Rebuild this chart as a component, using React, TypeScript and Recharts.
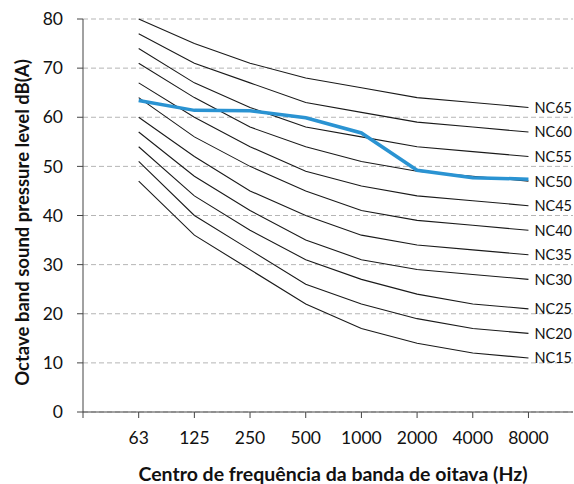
import { LineChart, Line, XAxis, YAxis, CartesianGrid, Label } from 'recharts'

// octave band centre frequencies (x categories)
const bands = ['63', '125', '250', '500', '1000', '2000', '4000', '8000']
const yTicks = [0, 10, 20, 30, 40, 50, 60, 70, 80]

// NC reference curves
const nc15 = [47, 36, 29, 22, 17, 14, 12, 11]
const nc20 = [51, 40, 33, 26, 22, 19, 17, 16]
const nc25 = [54, 44, 37, 31, 27, 24, 22, 21]
const nc30 = [57, 48, 41, 35, 31, 29, 28, 27]
const nc35 = [60, 52, 45, 40, 36, 34, 33, 32]
const nc40 = [64, 56, 50, 45, 41, 39, 38, 37]
const nc45 = [67, 60, 54, 49, 46, 44, 43, 42]
const nc50 = [71, 64, 58, 54, 51, 49, 48, 47]
const nc55 = [74, 67, 62, 58, 56, 54, 53, 52]
const nc60 = [77, 71, 67, 63, 61, 59, 58, 57]
const nc65 = [80, 75, 71, 68, 66, 64, 63, 62]

// measured spectrum
const measured = [63.4, 61.4, 61.3, 59.9, 56.8, 49.2, 47.7, 47.4]

const curves: [string, number[]][] = [
  ['NC15', nc15], ['NC20', nc20], ['NC25', nc25], ['NC30', nc30], ['NC35', nc35], ['NC40', nc40],
  ['NC45', nc45], ['NC50', nc50], ['NC55', nc55], ['NC60', nc60], ['NC65', nc65],
]

const data = bands.map((b, i) => {
  const row: Record<string, number | string> = { pos: i + 1, band: b, measured: measured[i] }
  curves.forEach(([name, vals]) => { row[name] = vals[i] })
  return row
})

const font = 'Lato, "Open Sans", sans-serif'

const endLabel = (name: string) => (props: any) => {
  if (props.index !== bands.length - 1) return null
  return (
    <text x={props.x + 6} y={props.y} dominantBaseline="central" fontSize={14.5} fill="#111" fontFamily={font}>
      {name}
    </text>
  )
}

export default function App() {
  return (
    <div style={{ position: 'absolute', left: 0, top: 0, background: '#fff' }}>
      <LineChart width={574} height={484} data={data} margin={{ top: 19, right: 1, bottom: 0, left: 0 }}>
        <CartesianGrid horizontal vertical={false} stroke="#b5b5b5" strokeDasharray="5 3" />
        <XAxis dataKey="pos" type="number" domain={[0, 8.8]} ticks={[0, 1, 2, 3, 4, 5, 6, 7, 8]}
          tickFormatter={v => (v === 0 ? '' : bands[v - 1])} height={72} tickSize={6} tickMargin={14}
          stroke="#444" tick={{ fill: '#111', fontSize: 17.5, fontFamily: font }}>
          <Label content={({ viewBox }: any) => (
            <text x={viewBox.x + viewBox.width / 2 + 5} y={viewBox.y + 61} textAnchor="middle" dominantBaseline="central"
              fontSize={19.5} fontWeight="bold" fill="#111" fontFamily={font}>
              Centro de frequência da banda de oitava (Hz)
            </text>
          )} />
        </XAxis>
        <YAxis type="number" domain={[0, 80]} ticks={yTicks} width={83} tickSize={6} tickMargin={14}
          stroke="#444" tick={{ fill: '#111', fontSize: 17.5, fontFamily: font }}>
          <Label content={({ viewBox }: any) => {
            const cx = 22
            const cy = viewBox.y + viewBox.height / 2 + 7
            return (
              <text x={cx} y={cy} transform={`rotate(-90, ${cx}, ${cy})`} textAnchor="middle" dominantBaseline="central"
                fontSize={18.5} fontWeight="bold" fill="#111" fontFamily={font}>
                Octave band sound pressure level dB(A)
              </text>
            )
          }} />
        </YAxis>
        {curves.map(([name]) => (
          <Line key={name} dataKey={name} type="linear" stroke="#1a1a1a" strokeWidth={1.1} dot={false}
            isAnimationActive={false} label={endLabel(name)} />
        ))}
        <Line dataKey="measured" type="linear" stroke="#2a93d2" strokeWidth={3.5} dot={false}
          isAnimationActive={false} />
      </LineChart>
    </div>
  )
}
